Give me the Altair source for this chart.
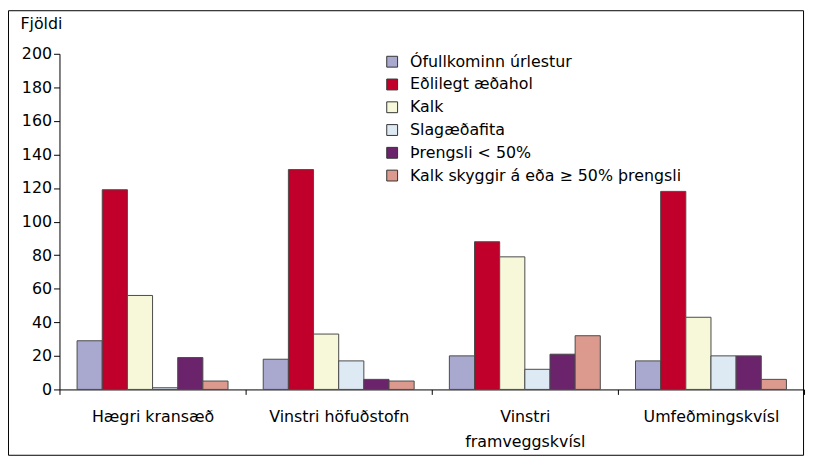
import altair as alt
import pandas as pd

categories = ["Hægri kransæð", "Vinstri höfuðstofn", "Vinstri framveggskvísl", "Umfeðmingskvísl"]
series = [
    "Ófullkominn úrlestur",
    "Eðlilegt æðahol",
    "Kalk",
    "Slagæðafita",
    "Þrengsli < 50%",
    "Kalk skyggir á eða ≥ 50% þrengsli",
]
colors = ["#a9a8cf", "#c0002a", "#f7f7d9", "#dde9f3", "#6b246c", "#dc9a8f"]

ofullkominn = [29, 18, 20, 17]
edlilegt = [119, 131, 88, 118]
kalk = [56, 33, 79, 43]
slagaedafita = [1, 17, 12, 20]
throngsli = [19, 6, 21, 20]
kalk_skyggir = [5, 5, 32, 6]

values = [ofullkominn, edlilegt, kalk, slagaedafita, throngsli, kalk_skyggir]
rows = []
for s, vals in zip(series, values):
    for c, v in zip(categories, vals):
        rows.append({"cat": c, "series": s, "value": v})
df = pd.DataFrame(rows)

FONT = "DejaVu Sans"

bars = alt.Chart(df).mark_bar(stroke="#4a4a4a", strokeWidth=1).encode(
    x=alt.X(
        "cat:N",
        sort=categories,
        scale=alt.Scale(paddingInner=0, paddingOuter=0),
        axis=alt.Axis(
            title=None,
            labelAngle=0,
            tickBand="extent",
            tickSize=5,
            labelPadding=14,
            labelLineHeight=26,
            labelLimit=0,
            labelExpr="datum.label == 'Vinstri framveggskvísl' ? ['Vinstri', 'framveggskvísl'] : datum.label",
        ),
    ),
    xOffset=alt.XOffset("series:N", sort=series, scale=alt.Scale(paddingInner=0, paddingOuter=0.7)),
    y=alt.Y(
        "value:Q",
        scale=alt.Scale(domain=[0, 200], nice=False),
        axis=alt.Axis(
            values=list(range(0, 201, 20)),
            title="Fjöldi",
            titleAngle=0,
            titleAlign="left",
            titleBaseline="alphabetic",
            titleX=-40,
            titleY=-26,
            titleFontWeight="normal",
            tickSize=6,
            labelPadding=2,
            grid=False,
        ),
    ),
    color=alt.Color(
        "series:N",
        sort=series,
        scale=alt.Scale(domain=series, range=colors),
        legend=alt.Legend(
            title=None,
            orient="none",
            legendX=328,
            legendY=0,
            symbolType="square",
            symbolSize=120,
            symbolStrokeColor="#333",
            symbolStrokeWidth=1,
            symbolOpacity=1,
            rowPadding=7,
            labelOffset=10,
            labelLimit=0,
            padding=0,
        ),
    ),
)

border = alt.Chart(alt.Data(values=[{}])).mark_rect(
    fill="transparent", stroke="black", strokeWidth=1
).encode(
    x=alt.value(-51.5),
    x2=alt.value(751.5),
    y=alt.value(-43.5),
    y2=alt.value(405.5),
)

chart = alt.layer(bars, border).properties(
    width=752,
    height=339,
    autosize=alt.AutoSizeParams(type="none"),
    padding={"left": 52, "top": 44, "right": 4, "bottom": 67},
).configure_view(stroke=None).configure_axis(
    labelFont=FONT,
    titleFont=FONT,
    labelFontSize=16,
    titleFontSize=16,
    labelColor="black",
    titleColor="black",
    domainColor="black",
    tickColor="black",
).configure_legend(
    labelFont=FONT, labelFontSize=16, labelColor="black"
)

chart.save("out.html", embed_options={"renderer": "svg", "actions": False})
